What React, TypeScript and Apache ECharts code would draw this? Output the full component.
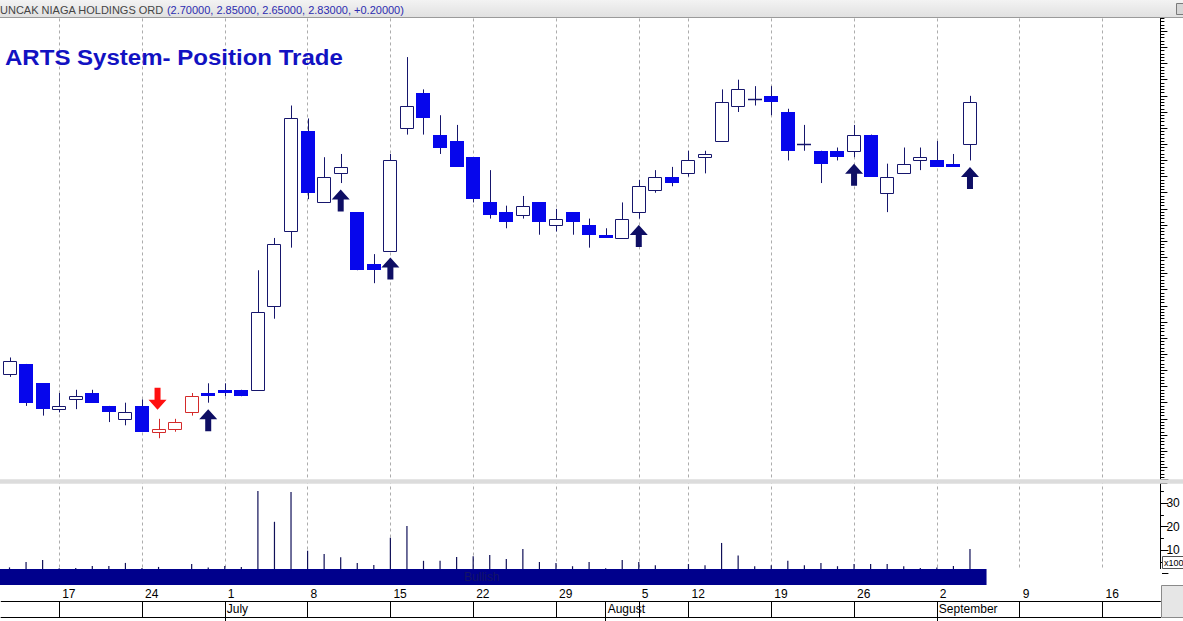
import React, { useEffect, useRef } from 'react';
import * as echarts from 'echarts';

// ---------- DATA ----------
const dates: string[] = [
  '06-12', '06-13', '06-14', '06-17', '06-18', '06-19', '06-20', '06-21', '06-24', '06-25', '06-26', '06-27', '06-28',
  '07-01', '07-02', '07-03', '07-04', '07-05', '07-08', '07-09', '07-10', '07-11', '07-12', '07-15', '07-16', '07-17',
  '07-18', '07-19', '07-22', '07-23', '07-24', '07-25', '07-26', '07-29', '07-30', '07-31',
  '08-01', '08-02', '08-05', '08-06', '08-07', '08-12', '08-13', '08-14', '08-15', '08-16', '08-19', '08-20', '08-21',
  '08-22', '08-23', '08-26', '08-27', '08-28', '08-29', '08-30',
  '09-02', '09-03', '09-04', '09-05', '09-06', '09-09', '09-10', '09-11', '09-12', '09-13', '09-16', '09-17', '09-18', '09-19',
];

const open: number[] = [
  1.99, 2.02, 1.96, 1.88, 1.91, 1.93, 1.89, 1.85, 1.89, 1.81,
  1.82, 1.87, 1.93, 1.94, 1.94, 1.94, 2.20, 2.43, 2.74, 2.52,
  2.61, 2.49, 2.33, 2.37, 2.75, 2.86, 2.73, 2.71, 2.66, 2.52,
  2.49, 2.48, 2.52, 2.45, 2.49, 2.45, 2.42, 2.41, 2.49, 2.56,
  2.60, 2.61, 2.66, 2.71, 2.82, 2.84, 2.85, 2.80, 2.70, 2.68,
  2.68, 2.68, 2.73, 2.55, 2.61, 2.65, 2.65, 2.64, 2.70,
];
const close: number[] = [
  2.03, 1.90, 1.88, 1.89, 1.92, 1.90, 1.87, 1.87, 1.81, 1.82,
  1.84, 1.92, 1.92, 1.93, 1.92, 2.18, 2.39, 2.78, 2.55, 2.60,
  2.63, 2.31, 2.31, 2.65, 2.82, 2.78, 2.69, 2.63, 2.53, 2.48,
  2.46, 2.51, 2.46, 2.47, 2.46, 2.42, 2.41, 2.47, 2.57, 2.60,
  2.58, 2.65, 2.67, 2.83, 2.87, 2.84, 2.83, 2.68, 2.70, 2.64,
  2.66, 2.73, 2.60, 2.60, 2.64, 2.66, 2.63, 2.63, 2.83,
];
const high: number[] = [
  2.04, 2.02, 1.96, 1.93, 1.94, 1.94, 1.89, 1.90, 1.91, 1.85,
  1.85, 1.93, 1.96, 1.96, 1.94, 2.31, 2.41, 2.82, 2.78, 2.66,
  2.67, 2.49, 2.36, 2.67, 2.97, 2.87, 2.79, 2.76, 2.66, 2.62,
  2.51, 2.54, 2.52, 2.50, 2.49, 2.47, 2.44, 2.52, 2.59, 2.62,
  2.63, 2.68, 2.68, 2.87, 2.90, 2.88, 2.88, 2.81, 2.76, 2.68,
  2.69, 2.76, 2.73, 2.64, 2.69, 2.69, 2.71, 2.67, 2.85,
];
const low: number[] = [
  1.98, 1.89, 1.86, 1.87, 1.88, 1.90, 1.84, 1.83, 1.81, 1.79,
  1.81, 1.86, 1.90, 1.92, 1.92, 1.94, 2.16, 2.38, 2.53, 2.52,
  2.58, 2.31, 2.27, 2.37, 2.73, 2.73, 2.67, 2.63, 2.52, 2.47,
  2.44, 2.47, 2.42, 2.43, 2.42, 2.38, 2.41, 2.41, 2.47, 2.55,
  2.57, 2.60, 2.61, 2.71, 2.80, 2.82, 2.79, 2.65, 2.68, 2.58,
  2.65, 2.66, 2.60, 2.49, 2.61, 2.62, 2.63, 2.63, 2.65,
];
// volume, x1000
const volume: number[] = [
  2.6, 4.9, 5.7, 2.2, 2.3, 3.2, 3.2, 4.5, 2.3, 2.8,
  1.5, 4.0, 2.6, 3.2, 2.8, 35.1, 22.0, 34.7, 9.7, 8.3,
  6.9, 4.5, 3.6, 15.2, 20.2, 5.4, 5.4, 7.0, 7.3, 7.9,
  6.2, 10.4, 4.9, 4.5, 3.1, 4.9, 2.2, 5.7, 4.9, 3.5,
  1.5, 4.0, 3.5, 13.0, 7.7, 3.1, 3.5, 5.4, 3.5, 4.5,
  3.1, 4.0, 4.0, 4.0, 3.1, 2.3, 2.6, 3.2, 10.4,
];
const redCandles: number[] = [9, 10, 11];
const buySignals: number[] = [12, 20, 23, 38, 51, 58];
const sellSignals: number[] = [9];
const ribbonSegments = [{ from: 0, to: 59, label: 'Bullish' }];
const lastPrice = 2.83;
const volumeTickLabels: number[] = [10, 20, 30];
const monthNames: string[] = ['January', 'February', 'March', 'April', 'May', 'June', 'July', 'August', 'September', 'October', 'November', 'December'];
const stockName = 'PUNCAK NIAGA HOLDINGS ORD';
const ohlcText = '(2.70000, 2.85000, 2.65000, 2.83000, +0.20000)';
const chartTitle = 'ARTS System- Position Trade';

// ---------- STYLE / LAYOUT ----------
const FONT = '"Liberation Sans", Arial, sans-serif';
const NAVY = '#16166c';
const BLUE = '#0606ec';
const RED = '#d42a2a';
const ARROW_NAVY = '#0e0e64';
const RIBBON = '#00008c';
const SLOT = 16.56;
const GRID_LEFT = 9.5 - SLOT / 2;
const GRID_W = SLOT * dates.length;

const dayInfo = dates.map((s) => {
  const [m, d] = s.split('-').map(Number);
  return { m, d, dow: new Date(2013, m - 1, d).getDay() };
});
const isMonday = (i: number) => dayInfo[i].dow === 1;
const isMonthStart = (i: number) => i > 0 && dayInfo[i].m !== dayInfo[i - 1].m;
const mondayCats = dates.filter((_, i) => isMonday(i));

const UP_ARROW = 'path://M9,0 L18,10 L12,10 L12,22 L6,22 L6,10 L0,10 Z';
const DOWN_ARROW = 'path://M6,0 L12,0 L12,12 L18,12 L9,22 L0,12 L6,12 Z';

function gridLineSeries(xi: number) {
  return {
    type: 'line',
    xAxisIndex: xi,
    yAxisIndex: xi,
    data: [],
    z: 1,
    silent: true,
    showSymbol: false,
    markLine: {
      silent: true,
      animation: false,
      z: 1,
      symbol: ['none', 'none'],
      label: { show: false },
      lineStyle: { color: '#acacac', type: [3, 3], width: 1 },
      data: mondayCats.map((c) => ({ xAxis: c })),
    },
  };
}

function buildOption(): any {
  const candleData = open.map((o, i) => [i, o, close[i], low[i], high[i]]);
  const hiddenX = (g: number) => ({ type: 'category', gridIndex: g, data: dates, boundaryGap: true, show: false });
  const hiddenY = (g: number) => ({ type: 'value', gridIndex: g, min: 0, max: 1, show: false });

  return {
    animation: false,
    backgroundColor: '#ffffff',
    textStyle: { fontFamily: FONT },
    grid: [
      { left: GRID_LEFT, width: GRID_W, top: 15.09, height: 468.35 },
      { left: GRID_LEFT, width: GRID_W, top: 479.5, height: 94 },
      { left: GRID_LEFT, width: GRID_W, top: 569, height: 16 },
      { left: GRID_LEFT, width: GRID_W, top: 585, height: 16 },
      { left: GRID_LEFT, width: GRID_W, top: 601, height: 16 },
    ],
    xAxis: [
      hiddenX(0),
      hiddenX(1),
      hiddenX(2),
      {
        type: 'category', gridIndex: 3, data: dates, boundaryGap: true, position: 'top',
        axisLine: { show: true, lineStyle: { color: '#000', width: 1 } },
        axisTick: {
          show: true, inside: true, length: 16, alignWithLabel: true,
          interval: (i: number) => isMonday(i) || isMonthStart(i),
          lineStyle: { color: '#000', width: 1 },
        },
        axisLabel: {
          show: true, inside: true, interval: (i: number) => isMonday(i),
          formatter: (v: string) => String(Number(v.split('-')[1])),
          align: 'left', verticalAlign: 'top', margin: 3, padding: [0, 0, 0, 3],
          color: '#000', fontSize: 12, fontFamily: FONT,
        },
        splitLine: { show: false },
      },
      {
        type: 'category', gridIndex: 4, data: dates, boundaryGap: true, position: 'top',
        axisLine: { show: true, lineStyle: { color: '#000', width: 1 } },
        axisTick: {
          show: true, inside: true, length: 16, alignWithLabel: true,
          interval: (i: number) => isMonthStart(i),
          lineStyle: { color: '#000', width: 1 },
        },
        axisLabel: {
          show: true, inside: true, interval: (i: number) => isMonthStart(i),
          formatter: (v: string) => monthNames[Number(v.split('-')[0]) - 1],
          align: 'left', verticalAlign: 'top', margin: 2, padding: [0, 0, 0, 2],
          color: '#000', fontSize: 12, fontFamily: FONT,
        },
        splitLine: { show: false },
      },
      {
        type: 'category', gridIndex: 4, data: dates, boundaryGap: true, position: 'bottom',
        axisLine: { show: true, lineStyle: { color: '#000', width: 1 } },
        axisTick: { show: false }, axisLabel: { show: false }, splitLine: { show: false },
      },
    ],
    yAxis: [
      {
        type: 'value', gridIndex: 0, min: 1.65, max: 3.1, interval: 0.05, position: 'right', scale: true,
        axisLine: { show: true, lineStyle: { color: '#000', width: 1 } },
        axisTick: { show: true, length: 7, lineStyle: { color: '#000' } },
        minorTick: { show: true, splitNumber: 5, length: 4, lineStyle: { color: '#000' } },
        axisLabel: { show: false },
        splitLine: { show: false }, minorSplitLine: { show: false },
      },
      {
        type: 'value', gridIndex: 1, min: 0, max: 40, interval: 10, position: 'right',
        axisLine: { show: true, lineStyle: { color: '#000', width: 1 } },
        axisTick: { show: true, length: 8, lineStyle: { color: '#000' } },
        minorTick: { show: true, splitNumber: 2, length: 3.5, lineStyle: { color: '#000' } },
        axisLabel: {
          show: true, margin: 6, color: '#000', fontSize: 12, fontFamily: FONT,
          formatter: (v: number) => (volumeTickLabels.includes(v) ? String(v) : ''),
        },
        splitLine: { show: false }, minorSplitLine: { show: false },
      },
      hiddenY(2),
      hiddenY(3),
      hiddenY(4),
    ],
    series: [
      gridLineSeries(0),
      gridLineSeries(1),
      {
        type: 'custom',
        name: 'price',
        xAxisIndex: 0,
        yAxisIndex: 0,
        z: 3,
        data: candleData,
        encode: { x: 0, y: [1, 2, 3, 4] },
        renderItem: (params: any, api: any) => {
          const i = api.value(0);
          const o = api.value(1), c = api.value(2), l = api.value(3), h = api.value(4);
          const pO = api.coord([i, o]);
          const yC = api.coord([i, c])[1];
          const yL = api.coord([i, l])[1];
          const yH = api.coord([i, h])[1];
          const cx = Math.round(pO[0]) + 0.5;
          const yO = pO[1];
          const top = Math.min(yO, yC), bot = Math.max(yO, yC);
          const isRed = redCandles.includes(i);
          const lineCol = isRed ? RED : NAVY;
          const children: any[] = [
            { type: 'line', shape: { x1: cx, y1: yH, x2: cx, y2: yL }, style: { stroke: lineCol, lineWidth: 1 } },
          ];
          if (Math.abs(c - o) < 1e-9) {
            const yy = Math.round(yO) + 0.5;
            children.push({ type: 'line', shape: { x1: cx - 7.5, y1: yy, x2: cx + 6.5, y2: yy }, style: { stroke: lineCol, lineWidth: 1.5 } });
          } else if (c > o) {
            const t = Math.round(top) + 0.5;
            const b = Math.round(bot) + 0.5;
            children.push({ type: 'rect', shape: { x: cx - 7, y: t, width: 13, height: b - t }, style: { fill: '#ffffff', stroke: lineCol, lineWidth: 1 } });
          } else {
            const t = Math.round(top);
            const b = Math.round(bot);
            children.push({ type: 'rect', shape: { x: cx - 7.5, y: t, width: 14, height: Math.max(b - t, 2) }, style: { fill: isRed ? RED : BLUE } });
          }
          return { type: 'group', children };
        },
        markLine: {
          silent: true,
          animation: false,
          symbol: ['none', 'none'],
          data: [
            {
              yAxis: lastPrice,
              lineStyle: { opacity: 0, width: 0 },
              label: {
                show: true, position: 'end', formatter: lastPrice.toFixed(2), distance: 4,
                color: '#3cf03c', backgroundColor: '#000', padding: [2, 2, 1, 2],
                fontSize: 11, fontFamily: FONT, offset: [0, -3],
              },
            },
          ],
        },
      },
      {
        type: 'scatter',
        name: 'buy',
        xAxisIndex: 0,
        yAxisIndex: 0,
        z: 4,
        symbol: UP_ARROW,
        symbolSize: [18, 22],
        symbolOffset: [0, 17.5],
        itemStyle: { color: ARROW_NAVY, opacity: 1 },
        data: buySignals.map((i) => [i, low[i]]),
      },
      {
        type: 'scatter',
        name: 'sell',
        xAxisIndex: 0,
        yAxisIndex: 0,
        z: 4,
        symbol: DOWN_ARROW,
        symbolSize: [18, 22],
        symbolOffset: [-1, -20],
        itemStyle: { color: '#ff1010', opacity: 1 },
        data: sellSignals.map((i) => [i, high[i]]),
      },
      {
        type: 'bar',
        name: 'volume',
        xAxisIndex: 1,
        yAxisIndex: 1,
        z: 3,
        barWidth: 1.2,
        itemStyle: { color: '#101058' },
        data: volume,
      },
      {
        type: 'custom',
        name: 'ribbon',
        xAxisIndex: 2,
        yAxisIndex: 2,
        z: 5,
        data: ribbonSegments.map((s) => [s.from, s.to]),
        renderItem: (params: any, api: any) => {
          const from = api.value(0), to = api.value(1);
          const w = api.size([1, 0])[0];
          const x0 = api.coord([from, 0])[0] - w;
          const x1 = api.coord([to, 0])[0];
          const cs = params.coordSys;
          return {
            type: 'group',
            children: [
              { type: 'rect', shape: { x: x0, y: cs.y, width: x1 - x0, height: cs.height }, style: { fill: RIBBON } },
              {
                type: 'text',
                style: {
                  text: ribbonSegments[params.dataIndex].label, x: (x0 + x1) / 2 - 8, y: cs.y + cs.height / 2,
                  align: 'center', verticalAlign: 'middle', fill: '#141466', font: '12px ' + FONT,
                },
              },
            ],
          };
        },
      },
    ],
    graphic: [
      {
        type: 'rect', z: 10, silent: true,
        shape: { x: 0, y: 0, width: 1183, height: 17 },
        style: {
          fill: new echarts.graphic.LinearGradient(0, 0, 0, 1, [
            { offset: 0, color: '#f3f3f3' },
            { offset: 1, color: '#e1e1e1' },
          ]),
        },
      },
      { type: 'line', z: 10, silent: true, shape: { x1: 0, y1: 17.5, x2: 1183, y2: 17.5 }, style: { stroke: '#9a9a9a', lineWidth: 1 } },
      {
        type: 'text', z: 11, silent: true, x: -7.3, y: 9.5,
        style: {
          text: `{a|${stockName}} {b|${ohlcText}}`,
          verticalAlign: 'middle',
          font: '11px ' + FONT,
          rich: {
            a: { fill: '#454545', color: '#454545', font: '11px ' + FONT },
            b: { fill: '#2c2cb0', color: '#2c2cb0', font: '11px ' + FONT },
          },
        },
      },
      { type: 'rect', z: 11, silent: true, shape: { x: 1176.5, y: 3.5, width: 12, height: 11 }, style: { fill: '#d6d6d6', stroke: '#7a7a7a', lineWidth: 1 } },
      {
        type: 'text', z: 10, silent: true, x: 5, y: 57.5, scaleX: 1.093,
        style: { text: chartTitle, font: 'bold 22px ' + FONT, fill: '#1212c2', verticalAlign: 'middle' },
      },
      { type: 'rect', z: 10, silent: true, shape: { x: 0, y: 479.3, width: 1183, height: 4.5 }, style: { fill: '#dcdcdc' } },
      { type: 'rect', z: 3, silent: true, shape: { x: 0, y: 569, width: 1162, height: 16 }, style: { fill: '#ffffff' } },
      { type: 'rect', z: 10, silent: true, shape: { x: 1162.5, y: 556.5, width: 30, height: 12 }, style: { fill: '#ffffff', stroke: '#555', lineWidth: 1 } },
      { type: 'text', z: 11, silent: true, x: 1164, y: 562.8, style: { text: 'x1000', font: '9px ' + FONT, fill: '#000', verticalAlign: 'middle' } },
      { type: 'rect', z: 10, silent: true, shape: { x: 1161.5, y: 585.5, width: 30, height: 32 }, style: { fill: '#e6e6e6', stroke: '#8a8a8a', lineWidth: 1 } },
    ],
  };
}

export default function App() {
  const ref = useRef<HTMLDivElement>(null);
  useEffect(() => {
    if (!ref.current) return;
    const chart = echarts.init(ref.current, undefined, { renderer: 'svg' });
    chart.setOption(buildOption());
    return () => chart.dispose();
  }, []);
  return (
    <div
      ref={ref}
      style={{ position: 'fixed', left: 0, top: 0, width: 1183, height: 621, background: '#fff' }}
    />
  );
}
